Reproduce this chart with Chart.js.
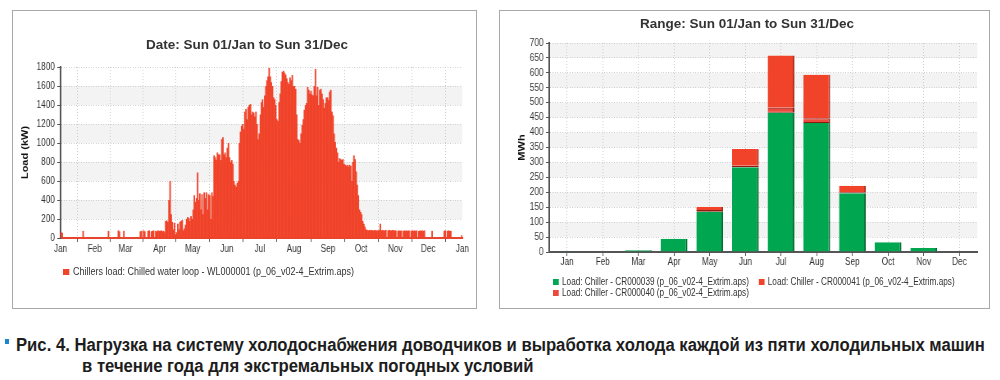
<!DOCTYPE html>
<html>
<head>
<meta charset="utf-8">
<script src="https://cdn.jsdelivr.net/npm/chart.js@4.4.1/dist/chart.umd.min.js"></script>
<style>
  body { margin: 0; width: 1000px; height: 380px; position: relative; overflow: hidden; background: #fff;
         font-family: "Liberation Sans", Arial, sans-serif; }
  .panel { position: absolute; top: 10px; height: 299px; border: 1px solid #a8a8a8; box-sizing: border-box; background: #fff; }
  #leftPanel { left: 12px; width: 465px; }
  #rightPanel { left: 499px; width: 491px; }
  /* the original charts are horizontally condensed */
  .panel canvas { position: absolute; left: 0; top: 0; transform: scaleX(0.82); transform-origin: 0 0; }
  .chartTitle { position: absolute; font-size: 13.5px; font-weight: bold; color: #333; text-align: center; line-height: 16px; white-space: nowrap; }
  #leftTitle { left: 13px; width: 468px; top: 37px; }
  #rightTitle { left: 500px; width: 494px; top: 16px; }
  .legend { position: absolute; font-size: 10px; color: #333; line-height: 11px; white-space: nowrap; transform-origin: 0 0; }
  .legend .box { display: inline-block; width: 7px; height: 6px; margin-right: 4px; vertical-align: 0px; }
  #leftLegend { left: 50px; top: 255px; transform: scaleX(0.9); }
  #rightLegend { left: 53px; top: 265px; display: grid; grid-template-columns: auto auto; column-gap: 12px; transform: scaleX(0.82); }
  .bullet { position: absolute; left: 5px; top: 339px; width: 4px; height: 5px; background: #1a86d0; }
  .caption { position: absolute; font-size: 18px; font-weight: bold; color: #1d1d1d; white-space: nowrap; line-height: 20px;
             transform-origin: 0 0; }
  #cap1 { left: 16px; top: 335px; }
  #cap2 { left: 82px; top: 356px; }
</style>
</head>
<body>
<div class="panel" id="leftPanel">
  <canvas id="loadChart" width="565" height="297"></canvas>
  <div class="legend" id="leftLegend"></div>
</div>
<div class="panel" id="rightPanel">
  <canvas id="chillerChart" width="596" height="297"></canvas>
  <div class="legend" id="rightLegend"></div>
</div>
<div class="chartTitle" id="leftTitle"></div>
<div class="chartTitle" id="rightTitle"></div>
<div class="bullet"></div>
<div class="caption" id="cap1">Рис. 4. Нагрузка на систему холодоснабжения доводчиков и выработка холода каждой из пяти холодильных машин</div>
<div class="caption" id="cap2">в течение года для экстремальных погодных условий</div>

<script>
// daily peak load, kW
const janLoad = [60,55,0,0,0,0,0,0,0,0, 0,0,0,0,0,0,0,0,0,0, 75,0,0,0,0,0,0,0,0,0, 0];
const febLoad = [0,0,0,0,0,0,0,0,0,0, 0,0,75,0,0,0,0,0,0,0, 0,80,70,0,0,0,75,0];
const marLoad = [0,0,0,0,0,0,0,0,0,0, 0,0,0,70,75,0,80,70,0,0, 75,80,0,70,75,80,0,75,70,80, 75];
const aprLoad = [75,80,70,75,60,180,185,170,400,600, 250,170,90,160,40,60,150,90,170,180, 190,80,100,140,200,220,210,180,230,200];
const mayLoad = [300,450,380,420,690,400,470,300,460,250, 480,420,480,300,460,450,200,480,440,870, 850,820,900,880,880,820,1040,1060,880,900, 850];
const junLoad = [950,1000,850,800,820,780,600,560,540,580, 600,1000,1120,1180,1200,1150,1330,1360,1250,1380, 1400,1410,1300,1330,1320,1280,1330,1200,1040,1100];
const julLoad = [1300,1430,1460,1380,1500,1600,1660,1700,1790,1700, 1640,1600,1480,1460,1400,1250,1230,1430,1520,1650, 1750,1760,1740,1720,1680,1640,1620,1690,1660,1715, 1600];
const augLoad = [1600,1570,1300,1040,1030,1000,1100,1190,1250,1350, 1400,1420,1590,1560,1520,1550,1510,1500,1600,1780, 1500,1590,1400,1560,1570,1520,1460,1370,1420,1480, 1480];
const sepLoad = [1450,1540,1560,1330,1290,1100,1010,950,900,800, 840,830,820,830,780,770,760,770,750,770, 760,600,800,870,830,700,560,450,300,275];
const octLoad = [250,180,150,120,90,85,80,85,80,85, 80,80,85,80,80,80,85,150,80,85, 80,80,85,0,80,85,80,80,85,80, 80];
const novLoad = [80,0,75,80,75,80,0,75,80,75, 80,75,80,0,75,80,75,80,75,80, 0,75,80,75,80,75,80,0,0,0];
const decLoad = [0,0,0,75,0,0,0,0,0,0, 0,0,0,0,75,80,0,75,80,75,75,0, 0,0,0,0,0,0,0,0,30];

const monthTicks = ["Jan","Feb","Mar","Apr","May","Jun","Jul","Aug","Sep","Oct","Nov","Dec","Jan"];
const monthStartDay = [0,31,59,90,120,151,181,212,243,273,304,334,365];

// monthly chiller output, MWh
const months = ["Jan","Feb","Mar","Apr","May","Jun","Jul","Aug","Sep","Oct","Nov","Dec"];
const cr039 = [1,2,6,44,135,284,466,432,197,33,13,2];
const cr040 = [0,0,0,0,6,5,17,16,3,0,0,0];
const cr041 = [0,0,0,0,10,56,175,146,22,0,0,0];

const leftTitleText = "Date: Sun 01/Jan to Sun 31/Dec";
const rightTitleText = "Range: Sun 01/Jan to Sun 31/Dec";
const loadLabel = "Chillers load: Chilled water loop - WL000001 (p_06_v02-4_Extrim.aps)";
const chillerLabels = [
  "Load: Chiller - CR000039 (p_06_v02-4_Extrim.aps)",
  "Load: Chiller - CR000040 (p_06_v02-4_Extrim.aps)",
  "Load: Chiller - CR000041 (p_06_v02-4_Extrim.aps)",
];

const red = "#f0432a";
const green = "#00a650";

Chart.defaults.font.family = '"Liberation Sans", Arial, sans-serif';
Chart.defaults.font.size = 10;
Chart.defaults.color = "#333";
Chart.defaults.animation = false;

// grey bands between every other pair of y gridlines
const bandPlugin = {
  id: "bands",
  beforeDraw(chart) {
    const ctx = chart.ctx;
    const area = chart.chartArea;
    const y = chart.scales.y;
    ctx.save();
    ctx.fillStyle = "#f3f3f3";
    for (let i = 1; i < y.ticks.length - 1; i += 2) {
      const top = y.getPixelForValue(y.ticks[i + 1].value);
      const bottom = y.getPixelForValue(y.ticks[i].value);
      ctx.fillRect(area.left, top, area.right - area.left, bottom - top);
    }
    ctx.restore();
  },
};

const dayLoad = [].concat(janLoad, febLoad, marLoad, aprLoad, mayLoad, junLoad, julLoad, augLoad, sepLoad, octLoad, novLoad, decLoad);
const loadPoints = dayLoad.map((v, i) => ({ x: i + 0.5, y: v }));

const gridOpts = { color: "#c9c9c9", tickColor: "#555", tickLength: 4 };

new Chart(document.getElementById("loadChart"), {
  type: "bar",
  data: {
    datasets: [
      {
        label: loadLabel,
        data: loadPoints,
        backgroundColor: red,
        borderWidth: 0,
        barPercentage: 1.4,
        categoryPercentage: 1,
      },
    ],
  },
  options: {
    responsive: false,
    layout: { padding: { left: 0, right: 17, top: 56, bottom: 52 } },
    plugins: {
      legend: { display: false },
      tooltip: { enabled: false },
    },
    scales: {
      x: {
        type: "linear",
        offset: false,
        min: 0,
        max: 365,
        afterBuildTicks: (scale) => {
          scale.ticks = monthStartDay.map((d) => ({ value: d }));
        },
        ticks: { callback: (v, i) => monthTicks[i], autoSkip: false, maxRotation: 0, padding: 1 },
        grid: gridOpts,
        border: { color: "#e8452f", width: 2, dash: [1, 2] },
      },
      y: {
        min: 0,
        max: 1800,
        afterFit: (scale) => { scale.width = 58; },
        ticks: { stepSize: 200, padding: 3, autoSkip: false, callback: (v) => String(v) },
        grid: gridOpts,
        border: { color: "#555", width: 2, dash: [1, 2] },
        title: { display: true, text: "Load (kW)", font: { size: 11, weight: "bold" }, color: "#111", padding: { top: 8, bottom: 0 } },
      },
    },
  },
  plugins: [bandPlugin],
});

const chillerChart = new Chart(document.getElementById("chillerChart"), {
  type: "bar",
  data: {
    labels: months,
    datasets: [
      {
        label: chillerLabels[0],
        data: cr039,
        backgroundColor: green,
        borderColor: "#006b30",
        borderWidth: { right: 2, left: 0, top: 0, bottom: 0 },
        borderSkipped: false,
      },
      {
        label: chillerLabels[1],
        data: cr040,
        backgroundColor: "#ec4a3c",
        borderColor: "#8e1a12",
        borderWidth: { right: 2, left: 0, top: 1, bottom: 1 },
        borderSkipped: false,
      },
      {
        label: chillerLabels[2],
        data: cr041,
        backgroundColor: red,
        borderColor: "#b02a1a",
        borderWidth: { right: 2, left: 0, top: 0, bottom: 0 },
        borderSkipped: false,
      },
    ],
  },
  options: {
    responsive: false,
    datasets: { bar: { categoryPercentage: 0.75, barPercentage: 1 } },
    layout: { padding: { left: 0, right: 14, top: 32, bottom: 40 } },
    plugins: {
      legend: { display: false },
      tooltip: { enabled: false },
    },
    scales: {
      x: {
        stacked: true,
        ticks: { padding: 0 },
        grid: { color: "#c9c9c9", tickColor: "#555", tickLength: 4, offset: false },
        border: { color: "#555", width: 2, dash: [1, 2] },
      },
      y: {
        stacked: true,
        min: 0,
        max: 700,
        afterFit: (scale) => { scale.width = 60; },
        ticks: { stepSize: 50, padding: 3, autoSkip: false },
        grid: gridOpts,
        border: { color: "#555", width: 2, dash: [1, 2] },
        title: { display: true, text: "MWh", font: { size: 11, weight: "bold" }, color: "#111", padding: { top: 20, bottom: 0 } },
      },
    },
  },
  plugins: [bandPlugin],
});

document.getElementById("leftTitle").textContent = leftTitleText;
document.getElementById("rightTitle").textContent = rightTitleText;

// html legends built from the datasets
function legendItem(label, color) {
  const el = document.createElement("div");
  el.innerHTML = '<span class="box" style="background:' + color + '"></span>' + label;
  return el;
}
document.getElementById("leftLegend").appendChild(legendItem(loadLabel, red));
const rightLegend = document.getElementById("rightLegend");
[0, 2, 1].forEach((i) => {
  const ds = chillerChart.data.datasets[i];
  rightLegend.appendChild(legendItem(ds.label, ds.backgroundColor));
});

// squeeze the caption so the first line spans the same width as in the figure
const cap1 = document.getElementById("cap1");
const cap2 = document.getElementById("cap2");
const capScale = 969 / cap1.offsetWidth;
cap1.style.transform = "scaleX(" + capScale + ")";
cap2.style.transform = "scaleX(" + capScale + ")";
</script>
</body>
</html>
